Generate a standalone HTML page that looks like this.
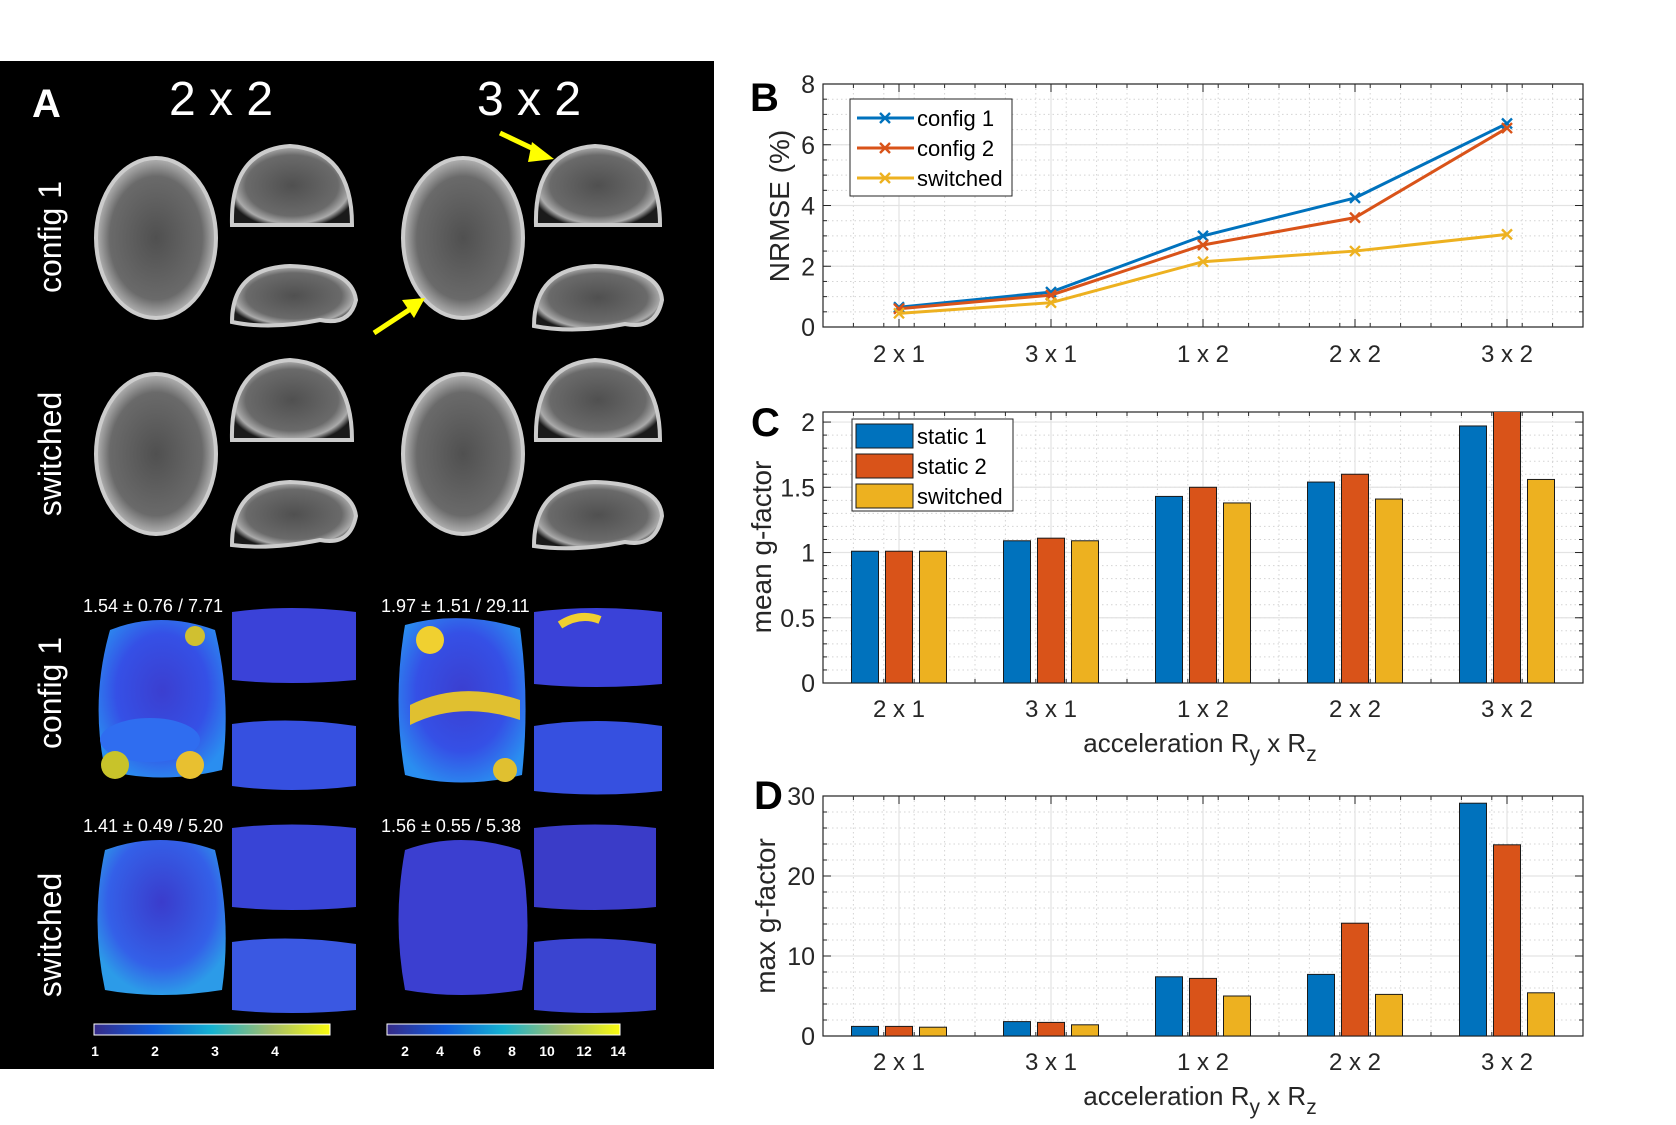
<!DOCTYPE html>
<html><head><meta charset="utf-8"><style>
html,body{margin:0;padding:0;background:#fff;}
svg{display:block;font-family:"Liberation Sans",sans-serif;}
</style></head><body>
<svg id="fig" width="1676" height="1125" viewBox="0 0 1676 1125" xmlns="http://www.w3.org/2000/svg">
<defs>
<radialGradient id="brainG" cx="50%" cy="50%" r="55%">
<stop offset="0" stop-color="#505050"/><stop offset="0.7" stop-color="#6a6a6a"/><stop offset="0.88" stop-color="#aaa"/><stop offset="1" stop-color="#1a1a1a"/>
</radialGradient>
<radialGradient id="gmapA" cx="50%" cy="45%" r="60%">
<stop offset="0" stop-color="#3b3fd0"/><stop offset="0.6" stop-color="#3550e6"/><stop offset="1" stop-color="#2a8ef0"/>
</radialGradient>
<radialGradient id="gmapS" cx="50%" cy="40%" r="60%">
<stop offset="0" stop-color="#3a3ccc"/><stop offset="0.7" stop-color="#3460e8"/><stop offset="1" stop-color="#2c9be8"/>
</radialGradient>
<clipPath id="clipC"><rect x="823" y="412" width="760" height="271"/></clipPath>
</defs>

<!-- Panel A -->
<g>
<rect x="0" y="61" width="714" height="1008" fill="#000"/>
<text x="32" y="117" font-size="40" font-weight="bold" fill="#fff">A</text>
<text x="221" y="115" font-size="48" fill="#fff" text-anchor="middle">2 x 2</text>
<text x="529" y="115" font-size="48" fill="#fff" text-anchor="middle">3 x 2</text>
<text transform="translate(61,237) rotate(-90)" font-size="32" fill="#fff" text-anchor="middle">config 1</text>
<text transform="translate(61,454) rotate(-90)" font-size="32" fill="#fff" text-anchor="middle">switched</text>
<text transform="translate(61,693) rotate(-90)" font-size="32" fill="#fff" text-anchor="middle">config 1</text>
<text transform="translate(61,935) rotate(-90)" font-size="32" fill="#fff" text-anchor="middle">switched</text>

<g stroke="#ccc" stroke-width="4">
<ellipse cx="156" cy="238" rx="60" ry="80" fill="url(#brainG)"/>
<path d="M232 225 Q230 150 290 146 Q352 150 352 225 Z" fill="url(#brainG)"/>
<path d="M232 322 Q232 268 290 266 Q352 268 356 300 Q350 326 320 320 Q270 330 232 322 Z" fill="url(#brainG)"/>
<ellipse cx="463" cy="238" rx="60" ry="80" fill="url(#brainG)"/>
<path d="M536 225 Q534 150 595 146 Q660 150 660 225 Z" fill="url(#brainG)"/>
<path d="M534 326 Q534 268 595 266 Q660 268 662 300 Q656 330 625 324 Q575 334 534 326 Z" fill="url(#brainG)"/>
<ellipse cx="156" cy="454" rx="60" ry="80" fill="url(#brainG)"/>
<path d="M232 440 Q230 364 290 360 Q352 364 352 440 Z" fill="url(#brainG)"/>
<path d="M232 545 Q232 484 290 482 Q352 484 356 516 Q350 546 320 540 Q270 550 232 545 Z" fill="url(#brainG)"/>
<ellipse cx="463" cy="454" rx="60" ry="80" fill="url(#brainG)"/>
<path d="M536 440 Q534 364 595 360 Q660 364 660 440 Z" fill="url(#brainG)"/>
<path d="M534 546 Q534 484 595 482 Q660 484 662 516 Q656 548 625 542 Q575 552 534 546 Z" fill="url(#brainG)"/>
</g>
<g stroke="#ff0" stroke-width="5" fill="#ff0">
<line x1="374" y1="333" x2="412" y2="308"/><polygon points="425,298 402,300 414,318" stroke="none"/>
<line x1="500" y1="133" x2="540" y2="152"/><polygon points="554,159 532,142 528,162" stroke="none"/>
</g>

<g font-size="18" fill="#fff">
<text x="83" y="612">1.54 ± 0.76 / 7.71</text>
<text x="381" y="612">1.97 ± 1.51 / 29.11</text>
<text x="83" y="832">1.41 ± 0.49 / 5.20</text>
<text x="381" y="832">1.56 ± 0.55 / 5.38</text>
<path d="M110 630 Q160 610 215 630 Q232 700 222 770 Q160 785 105 770 Q90 700 110 630 Z" fill="url(#gmapA)"/>
<ellipse cx="150" cy="740" rx="50" ry="22" fill="#2f6df0"/>
<circle cx="115" cy="765" r="14" fill="#c8c32a"/><circle cx="190" cy="765" r="14" fill="#e8c030"/><circle cx="195" cy="636" r="10" fill="#d0c030"/>
<path d="M232 612 Q290 604 356 612 L356 680 Q290 686 232 680 Z" fill="#3a42d8"/>
<path d="M232 724 Q290 716 356 726 L356 786 Q290 794 232 786 Z" fill="#3650e0"/>
<path d="M405 625 Q460 610 520 628 Q530 700 522 775 Q460 790 405 775 Q392 700 405 625 Z" fill="url(#gmapA)"/>
<path d="M410 705 Q460 680 520 700 L520 720 Q460 700 410 725 Z" fill="#e0c030"/>
<circle cx="430" cy="640" r="14" fill="#f0d030"/><circle cx="505" cy="770" r="12" fill="#e0c030"/>
<path d="M534 612 Q595 604 662 612 L662 684 Q595 690 534 684 Z" fill="#3a42d8"/>
<path d="M560 625 Q580 612 600 620" stroke="#f0d030" stroke-width="8" fill="none"/>
<path d="M534 726 Q595 716 662 726 L662 791 Q595 798 534 791 Z" fill="#3650e0"/>
<path d="M105 850 Q160 830 215 850 Q232 920 222 990 Q160 1000 105 990 Q90 920 105 850 Z" fill="url(#gmapS)"/>
<path d="M232 828 Q290 821 356 828 L356 907 Q290 913 232 907 Z" fill="#3844d6"/>
<path d="M232 942 Q290 934 356 944 L356 1010 Q290 1016 232 1010 Z" fill="#3a58e2"/>
<path d="M405 850 Q460 830 520 850 Q534 920 522 990 Q460 1000 405 990 Q392 920 405 850 Z" fill="#3b3fd0"/>
<path d="M534 828 Q595 821 656 828 L656 907 Q595 913 534 907 Z" fill="#3a3cc8"/>
<path d="M534 942 Q595 934 656 944 L656 1010 Q595 1016 534 1010 Z" fill="#3a44d0"/>
</g>
<defs>
<linearGradient id="parula" x1="0" x2="1"><stop offset="0" stop-color="#352a87"/><stop offset="0.25" stop-color="#0f5cdd"/><stop offset="0.5" stop-color="#14b2d0"/><stop offset="0.75" stop-color="#a5be6a"/><stop offset="1" stop-color="#f9fb0e"/></linearGradient>
</defs>
<rect x="94" y="1024" width="236" height="11" fill="url(#parula)" stroke="#fff"/>
<rect x="387" y="1024" width="233" height="11" fill="url(#parula)" stroke="#fff"/>
<g font-size="14" fill="#fff" text-anchor="middle" font-weight="bold">
<text x="95" y="1056">1</text><text x="155" y="1056">2</text><text x="215" y="1056">3</text><text x="275" y="1056">4</text>
<text x="405" y="1056">2</text><text x="440" y="1056">4</text><text x="477" y="1056">6</text><text x="512" y="1056">8</text><text x="547" y="1056">10</text><text x="584" y="1056">12</text><text x="618" y="1056">14</text>
</g>
</g>

<g id="charts"></g>
</svg>
<script>
const categories = ['2 x 1','3 x 1','1 x 2','2 x 2','3 x 2'];
const nrmseConfig1 = [0.65, 1.15, 3.0, 4.25, 6.7];
const nrmseConfig2 = [0.6, 1.05, 2.7, 3.6, 6.55];
const nrmseSwitched = [0.45, 0.8, 2.15, 2.5, 3.05];
const meanStatic1 = [1.01, 1.09, 1.43, 1.54, 1.97];
const meanStatic2 = [1.01, 1.11, 1.50, 1.60, 2.1];
const meanSwitched = [1.01, 1.09, 1.38, 1.41, 1.56];
const maxStatic1 = [1.2, 1.8, 7.4, 7.7, 29.1];
const maxStatic2 = [1.2, 1.7, 7.2, 14.1, 23.9];
const maxSwitched = [1.1, 1.4, 5.0, 5.2, 5.4];
const nrmseTicks = [0, 2, 4, 6, 8];
const meanTicks = [0, 0.5, 1, 1.5, 2];
const meanTickLabels = ['0', '0.5', '1', '1.5', '2'];
const maxTicks = [0, 10, 20, 30];

const NS = 'http://www.w3.org/2000/svg';
const root = document.getElementById('charts');
const C1 = '#0072BD', C2 = '#D95319', C3 = '#EDB120';
function mk(parent, tag, attrs, txt) {
  const e = document.createElementNS(NS, tag);
  for (const k in attrs) e.setAttribute(k, attrs[k]);
  if (txt !== undefined) e.textContent = txt;
  parent.appendChild(e);
  return e;
}
function makeAxes(name, L, R, T, B, ymax, ticks, labels, yminor, xlabBase) {
  const g = mk(root, 'g', {});
  
  
  const n = categories.length;
  const x = i => L + (i + 0.5) * (R - L) / n;
  const xf = v => L + (v - 0.5) * (R - L) / n;
  const y = v => B - v / ymax * (B - T);
  for (let v = 0; v <= ymax + 1e-9; v += yminor) {
    const yy = y(v);
    mk(g, 'line', {x1: L, x2: R, y1: yy, y2: yy, stroke: '#d4d4d4', 'stroke-width': 1, 'stroke-dasharray': '1.5,3'});
    mk(g, 'line', {x1: L, x2: L + 4, y1: yy, y2: yy, stroke: '#262626'});
    mk(g, 'line', {x1: R - 4, x2: R, y1: yy, y2: yy, stroke: '#262626'});
  }
  for (let v = 0.5; v <= n + 0.5 + 1e-9; v += 0.2) {
    const xx = xf(v);
    mk(g, 'line', {x1: xx, x2: xx, y1: T, y2: B, stroke: '#d4d4d4', 'stroke-width': 1, 'stroke-dasharray': '1.5,3'});
    mk(g, 'line', {x1: xx, x2: xx, y1: B, y2: B - 4, stroke: '#262626'});
    mk(g, 'line', {x1: xx, x2: xx, y1: T, y2: T + 4, stroke: '#262626'});
  }
  ticks.forEach((v, i) => {
    const yy = y(v);
    mk(g, 'line', {x1: L, x2: R, y1: yy, y2: yy, stroke: '#e3e3e3', 'stroke-width': 1.2});
    mk(g, 'line', {x1: L, x2: L + 8, y1: yy, y2: yy, stroke: '#262626'});
    mk(g, 'line', {x1: R - 8, x2: R, y1: yy, y2: yy, stroke: '#262626'});
    const t = mk(g, 'text', {x: L - 8, y: yy + 9, 'font-size': 25, fill: '#262626', 'text-anchor': 'end'}, labels[i]);
    
    
  });
  categories.forEach((c, i) => {
    const xx = x(i);
    mk(g, 'line', {x1: xx, x2: xx, y1: T, y2: B, stroke: '#e3e3e3', 'stroke-width': 1.2});
    mk(g, 'line', {x1: xx, x2: xx, y1: B, y2: B - 8, stroke: '#262626'});
    mk(g, 'line', {x1: xx, x2: xx, y1: T, y2: T + 8, stroke: '#262626'});
    const t = mk(g, 'text', {x: xx, y: B + xlabBase, 'font-size': 24, fill: '#262626', 'text-anchor': 'middle'}, c);
    
    
  });
  const box = mk(g, 'rect', {x: L, y: T, width: R - L, height: B - T, fill: 'none', stroke: '#262626', 'stroke-width': 1.2});
  
  
  return {g, x, y};
}
function panelLetter(t, x, yy) {
  const e = mk(root, 'text', {x: x, y: yy, 'font-size': 40, 'font-weight': 'bold', fill: '#000'}, t);
  
  
}
function yTitle(txt, x, cy, name) {
  const e = mk(root, 'text', {transform: 'translate(' + x + ',' + cy + ') rotate(-90)', 'font-size': 28, fill: '#262626', 'text-anchor': 'middle'}, txt);
  
  
}
function xTitle(cx, by, name) {
  const e = mk(root, 'text', {x: cx, y: by, 'font-size': 26, fill: '#262626', 'text-anchor': 'middle'});
  
  
  mk(e, 'tspan', {}, 'acceleration R');
  mk(e, 'tspan', {dy: 9, 'font-size': 21}, 'y');
  mk(e, 'tspan', {dy: -9}, ' x R');
  mk(e, 'tspan', {dy: 9, 'font-size': 21}, 'z');
}

const axB = makeAxes('nrmse-chart', 823, 1583, 84, 327, 8, nrmseTicks, nrmseTicks.map(String), 0.5, 35);
panelLetter('B', 750, 111);
yTitle('NRMSE (%)', 789, 206, 'y-axis-title-nrmse');
function series(ax, vals, col, name) {
  const pts = vals.map((v, i) => ax.x(i) + ',' + ax.y(v)).join(' ');
  const pl = mk(ax.g, 'polyline', {points: pts, fill: 'none', stroke: col, 'stroke-width': 3});
  
  
  vals.forEach((v, i) => {
    const cx = ax.x(i), cy = ax.y(v), s = 5;
    const m = mk(ax.g, 'path', {d: 'M' + (cx - s) + ' ' + (cy - s) + 'L' + (cx + s) + ' ' + (cy + s) + 'M' + (cx - s) + ' ' + (cy + s) + 'L' + (cx + s) + ' ' + (cy - s), stroke: col, 'stroke-width': 2.4});
    
    
  });
}
series(axB, nrmseConfig1, C1, 'config1');
series(axB, nrmseConfig2, C2, 'config2');
series(axB, nrmseSwitched, C3, 'switched');
(function () {
  const lg = mk(root, 'g', {});
  
  
  mk(lg, 'rect', {x: 850, y: 99, width: 162, height: 97, fill: '#fff', stroke: '#262626', 'stroke-width': 1});
  [['config 1', C1, 118], ['config 2', C2, 148], ['switched', C3, 178]].forEach(r => {
    mk(lg, 'line', {x1: 857, x2: 914, y1: r[2], y2: r[2], stroke: r[1], 'stroke-width': 3});
    mk(lg, 'path', {d: 'M880 ' + (r[2] - 5) + 'l10 10m-10 0l10 -10', stroke: r[1], 'stroke-width': 2.4});
    const t = mk(lg, 'text', {x: 917, y: r[2] + 8, 'font-size': 22, fill: '#000'}, r[0]);
    
    
  });
})();

function bars(ax, arrs, cols, names, clip) {
  const gb = mk(ax.g, 'g', clip ? {'clip-path': 'url(#' + clip + ')'} : {});
  arrs.forEach((vals, k) => {
    vals.forEach((v, i) => {
      const cx = ax.x(i) + (k - 1) * 34;
      const top = ax.y(v), base = ax.y(0);
      const r = mk(gb, 'rect', {x: cx - 13.5, y: top, width: 27, height: base - top, fill: cols[k], stroke: '#1a1a1a', 'stroke-width': 1});
      
      
    });
  });
}
function barLegend(x, y) {
  const lg = mk(root, 'g', {});
  
  
  mk(lg, 'rect', {x: x, y: y, width: 161, height: 92, fill: '#fff', stroke: '#262626', 'stroke-width': 1});
  [['static 1', C1], ['static 2', C2], ['switched', C3]].forEach((r, i) => {
    const yy = y + 5 + i * 30;
    mk(lg, 'rect', {x: x + 4, y: yy, width: 57, height: 24, fill: r[1], stroke: '#1a1a1a'});
    const t = mk(lg, 'text', {x: x + 65, y: yy + 20, 'font-size': 22, fill: '#000'}, r[0]);
    
    
  });
}

const axC = makeAxes('mean-gfactor-chart', 823, 1583, 412, 683, 2.077, meanTicks, meanTickLabels, 0.1, 34);
bars(axC, [meanStatic1, meanStatic2, meanSwitched], [C1, C2, C3], ['static1', 'static2', 'switched'], 'clipC');
panelLetter('C', 751, 436);
yTitle('mean g-factor', 771, 547, 'y-axis-title-mean-gfactor');
xTitle(1200, 752, 'x-axis-title-c');
barLegend(852, 419);

const axD = makeAxes('max-gfactor-chart', 823, 1583, 796, 1036, 30, maxTicks, maxTicks.map(String), 2, 34);
bars(axD, [maxStatic1, maxStatic2, maxSwitched], [C1, C2, C3], ['static1', 'static2', 'switched'], null);
panelLetter('D', 754, 809);
yTitle('max g-factor', 775, 916, 'y-axis-title-max-gfactor');
xTitle(1200, 1105, 'x-axis-title-d');
</script>
</body></html>
